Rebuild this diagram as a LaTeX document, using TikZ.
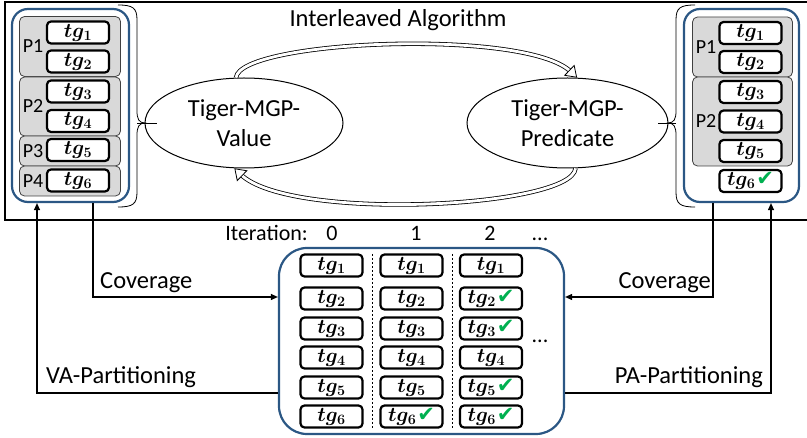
\RequirePackage{fix-cm}
\documentclass[tikz,border=0pt]{standalone}
\usepackage{amsmath,bm}
\usepackage{fontspec}
\setmainfont{Carlito}
\newfontfamily\symfont{DejaVu Sans}
\usetikzlibrary{arrows.meta,shapes.geometric,calc}
\definecolor{myblue}{HTML}{2B5784}
\definecolor{chk}{HTML}{00B050}
\definecolor{partgray}{HTML}{D9D9D9}
\newcommand{\tg}[1]{$\bm{tg_{#1}}$}
\newcommand{\ok}{\hspace{1pt}{\symfont\fontsize{21}{22}\selectfont\color{chk}✔}}
\begin{document}
\begin{tikzpicture}[x=1pt,y=-1pt,
  tgb/.style={draw, line width=2.2pt, rounded corners=4pt, fill=white, minimum width=62pt, minimum height=22pt, inner sep=0pt, font=\fontsize{20.5}{22}\selectfont},
  part/.style={draw=black!75, line width=0.8pt, fill=partgray, rounded corners=5pt, inner sep=0pt},
  bbox/.style={draw=myblue, line width=2.2pt, rounded corners=16pt, inner sep=0pt},
  plab/.style={font=\fontsize{20}{22}\selectfont, inner sep=0pt},
  lab/.style={font=\fontsize{24.5}{30}\selectfont, inner sep=0pt},
  itlab/.style={font=\fontsize{22}{26}\selectfont, inner sep=0pt, anchor=base},
  brace/.style={line width=0.8pt},
  ell/.style={ellipse, draw, line width=1pt, align=center, inner sep=0pt, font=\fontsize{24.5}{30}\selectfont},
  dbl/.style={draw=black, line width=0.8pt, double=white, double distance=2.8pt, shorten >=9pt},
  headtip/.style={line width=0.8pt, -{Triangle[length=11pt,width=15pt,fill=white]}},
  conn/.style={line width=1.1pt, -{Triangle[length=7pt,width=6pt]}}
]
\useasboundingbox (0,0) rectangle (807,438);
% frame
\draw[line width=2.6pt] (807,2) -- (5,2) -- (5,220) -- (807,220);

% left box
\node[bbox, minimum width=117pt, minimum height=193pt] (lbox) at (70.5,105.5) {};
\node[part, minimum width=101pt, minimum height=60pt] (lp1) at (70,46.5) {};
\node[part, minimum width=101pt, minimum height=59pt] (lp2) at (70,106.5) {};
\node[part, minimum width=101pt, minimum height=30pt] (lp3) at (70,151) {};
\node[part, minimum width=101pt, minimum height=30pt] (lp4) at (70,181) {};
\node[plab] (lp1l) at (33,46.5) {P1};
\node[plab] (lp2l) at (33,106.5) {P2};
\node[plab] (lp3l) at (33,151) {P3};
\node[plab] (lp4l) at (33,181) {P4};
\node[tgb] (l1) at (78,32.5) {\tg1};
\node[tgb] (l2) at (78,61.5) {\tg2};
\node[tgb] (l3) at (78,91.5) {\tg3};
\node[tgb] (l4) at (78,121) {\tg4};
\node[tgb] (l5) at (78,150) {\tg5};
\node[tgb] (l6) at (78,180.5) {\tg6};

% right box
\node[bbox, minimum width=115pt, minimum height=193pt] (rbox) at (741.5,105.5) {};
\node[part, minimum width=100pt, minimum height=60pt] (rp1) at (742.5,47) {};
\node[part, minimum width=100pt, minimum height=89pt] (rp2) at (742.5,121.5) {};
\node[plab] (rp1l) at (706,47) {P1};
\node[plab] (rp2l) at (706,121.5) {P2};
\node[tgb] (r1) at (750.5,33) {\tg1};
\node[tgb] (r2) at (750.5,62) {\tg2};
\node[tgb] (r3) at (750.5,92) {\tg3};
\node[tgb] (r4) at (750.5,121.5) {\tg4};
\node[tgb] (r5) at (750.5,151) {\tg5};
\node[tgb] (r6) at (750.5,181) {\tg6\ok};

% ellipses
\node[ell, minimum width=198pt, minimum height=90pt] (val) at (244,123) {Tiger-MGP-\\Value};
\node[ell, minimum width=201pt, minimum height=90pt] (pred) at (567.5,123) {Tiger-MGP-\\Predicate};
\node[lab, anchor=base] (title) at (398,27) {Interleaved Algorithm};

% braces
\draw[brace] (118,5) .. controls (133,5) and (137,8) .. (137,20) -- (137,111) .. controls (137,119) and (139,123) .. (145,123) .. controls (139,123) and (137,127) .. (137,135) -- (137,192) .. controls (137,204) and (133,207) .. (118,207);
\draw[brace] (695,5) .. controls (680,5) and (676,8) .. (676,20) -- (676,111) .. controls (676,119) and (674,123) .. (668,123) .. controls (674,123) and (676,127) .. (676,135) -- (676,192) .. controls (676,204) and (680,207) .. (695,207);
\coordinate (lbt) at (137,123);
\coordinate (rbt) at (676,123);
\draw[brace] (lbt) -- ($(val.west)+(12,0)$);
\draw[brace] (rbt) -- ($(pred.east)+(-11,0)$);

% cycle arrows
\draw[dbl] (val.100) .. controls (240,40) and (525,28) .. (pred.78);
\draw[headtip] ($(pred.78)!3pt!(525,28)$) -- (pred.78);
\draw[dbl] (pred.-80) .. controls (572,208) and (290,222) .. (val.-102);
\draw[headtip] ($(val.-102)!3pt!(290,222)$) -- (val.-102);

% iteration labels
\node[itlab] (it) at (308,241) [anchor=base east] {Iteration:};
\node[itlab] (i0) at (332,241) {0};
\node[itlab] (i1) at (416,241) {1};
\node[itlab] (i2) at (490,241) {2};
\node[itlab] (i3) at (540,241) {...};
\node[itlab] (dots2) at (540,343) {...};

% grid
\node[bbox, rounded corners=28pt, minimum width=285pt, minimum height=186pt] (grid) at (421.5,341) {};
\draw[line width=0.6pt, dash pattern=on 2pt off 2pt] (372,254) -- (372,428);
\draw[line width=0.6pt, dash pattern=on 2pt off 2pt] (452,254) -- (452,428);
\foreach \r/\y in {1/265.5,2/298.5,3/328.5,4/357.5,5/387.5,6/416.5}{
  \node[tgb] (a\r) at (331.5,\y) {\tg{\r}};
}
\foreach \r/\y in {1/265.5,2/298.5,3/328.5,4/357.5,5/387.5}{
  \node[tgb] (b\r) at (411.5,\y) {\tg{\r}};
}
\node[tgb] (b6) at (411.5,416.5) {\tg6\ok};
\node[tgb] (c1) at (491,265.5) {\tg1};
\node[tgb] (c2) at (491,298.5) {\tg2\ok};
\node[tgb] (c3) at (491,328.5) {\tg3\ok};
\node[tgb] (c4) at (491,357.5) {\tg4};
\node[tgb] (c5) at (491,387.5) {\tg5\ok};
\node[tgb] (c6) at (491,416.5) {\tg6\ok};

% connectors
\draw[conn] (93,0 |- lbox.south) |- (grid.west |- 0,297);
\draw[conn] (grid.west |- 0,393) -| (37,0 |- lbox.south);
\draw[conn] (713,0 |- rbox.south) |- (grid.east |- 0,297);
\draw[conn] (grid.east |- 0,393) -| (771,0 |- rbox.south);
\node[lab, anchor=base west] (covl) at (100,289) {Coverage};
\node[lab, anchor=base west] (val2) at (46,384) {VA-Partitioning};
\node[lab, anchor=base east] (covr) at (711,289) {Coverage};
\node[lab, anchor=base east] (par) at (763,384) {PA-Partitioning};
\end{tikzpicture}
\end{document}
